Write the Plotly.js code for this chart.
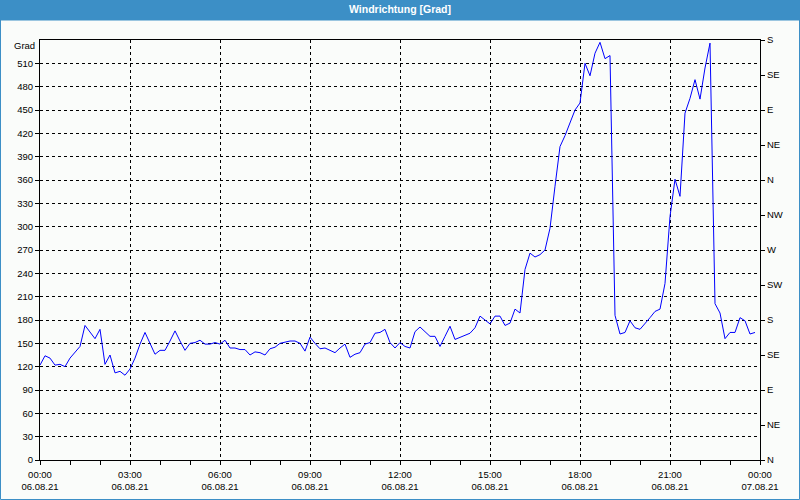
<!DOCTYPE html>
<html>
<head>
<meta charset="utf-8">
<script src="https://cdn.plot.ly/plotly-3.0.1.min.js"></script>
<style>
html,body{margin:0;padding:0;background:#fafcfa;}
#chart{width:800px;height:500px;}
</style>
</head>
<body>
<div id="chart"></div>
<script>
// ---- data ----
const startUTC = Date.UTC(2021, 7, 6, 0, 0);   // 06.08.21 00:00
const stepMs = 10 * 60 * 1000;                  // 10-minute samples
const direction = [
  122,134,131,122,123,120,131,139,146,173,165,156,168,123,135,112,114,109,
  117,131,149,164,150,136,141,141,153,166,153,141,150,151,154,149,149,151,
  149,154,144,144,142,142,135,139,138,135,143,145,150,152,153,153,150,140,
  158,150,143,144,141,138,144,149,132,136,138,149,151,163,164,168,151,144,
  151,146,144,165,171,165,159,159,146,159,172,155,158,160,163,170,185,180,
  175,185,185,173,176,194,189,245,266,261,264,270,298,352,403,417,434,450,
  459,510,494,523,537,516,520,186,162,164,179,170,168,175,183,191,194,227,
  313,361,339,446,465,489,464,504,536,201,189,156,164,164,183,179,162,164
];
const tickHours = [0,3,6,9,12,15,18,21,24];
const tickTimeLabels = ['00:00','03:00','06:00','09:00','12:00','15:00','18:00','21:00','00:00'];
const tickDateLabels = ['06.08.21','06.08.21','06.08.21','06.08.21','06.08.21','06.08.21','06.08.21','06.08.21','07.08.21'];
const leftTickVals = [0,30,60,90,120,150,180,210,240,270,300,330,360,390,420,450,480,510];
const rightTickVals = [0,45,90,135,180,225,270,315,360,405,450,495,540];
const rightTickLabels = ['N','NE','E','SE','S','SW','W','NW','N','NE','E','SE','S'];
const unitLabel = 'Grad';
const titleText = 'Windrichtung [Grad]';

// ---- build ----
const times = direction.map((_, i) => startUTC + i * stepMs);
const hourMs = 3600 * 1000;
const tickVals = tickHours.map(h => startUTC + h * hourMs);
const minorVals = [];
for (let h = 0; h <= 24; h++) minorVals.push(startUTC + h * hourMs);
const xRange = [startUTC, startUTC + 24 * hourMs];

const blue = '#3c8fc6';
const bg = '#fafcfa';
const tickFont = {family: 'Liberation Sans, Arial, sans-serif', size: 9.5, color: '#000'};

const traces = [
  {
    x: times, y: direction, type: 'scatter', mode: 'lines',
    line: {color: '#0000ff', width: 1}, hoverinfo: 'x+y'
  },
  {
    x: [startUTC], y: [null], xaxis: 'x2', yaxis: 'y2', type: 'scatter', mode: 'lines',
    hoverinfo: 'skip', showlegend: false
  }
];

const W = 800, H = 500, ml = 40, mr = 40, mt = 40, mb = 40;
const pw = W - ml - mr, ph = H - mt - mb;
const px2x = p => (p - ml) / pw;
const py2y = p => (H - mb - p) / ph;

const layout = {
  width: W, height: H,
  margin: {l: ml, r: mr, t: mt, b: mb, pad: 0},
  paper_bgcolor: bg, plot_bgcolor: bg,
  showlegend: false,
  title: {
    text: titleText,
    font: {family: 'Liberation Sans, Arial, sans-serif', size: 10.5, color: '#ffffff', weight: 'bold'},
    xref: 'container', x: 0.5, xanchor: 'center',
    yref: 'container', y: 1 - 9.5 / H, yanchor: 'middle'
  },
  xaxis: {
    type: 'date', range: xRange,
    tickmode: 'array', tickvals: tickVals, ticktext: tickTimeLabels,
    showgrid: true, gridcolor: '#000', gridwidth: 1, griddash: '3px,3px',
    showline: true, linecolor: '#000', linewidth: 1, mirror: true,
    ticks: 'outside', ticklen: 4, tickcolor: '#000', tickwidth: 1,
    minor: {tickmode: 'array', tickvals: minorVals, ticks: 'outside', ticklen: 4, tickcolor: '#000', tickwidth: 1, showgrid: false},
    zeroline: false, tickfont: tickFont, ticklabelstandoff: 2
  },
  xaxis2: {
    type: 'date', range: xRange, overlaying: 'x', anchor: 'y', side: 'bottom',
    tickmode: 'array', tickvals: tickVals, ticktext: tickDateLabels,
    ticks: '', showgrid: false, showline: false, zeroline: false,
    tickfont: tickFont, ticklabelstandoff: 19
  },
  yaxis: {
    range: [0, 540], tickmode: 'array', tickvals: leftTickVals,
    showgrid: true, gridcolor: '#000', gridwidth: 1, griddash: '3px,3px',
    showline: true, linecolor: '#000', linewidth: 1, mirror: true,
    ticks: 'outside', ticklen: 4, tickcolor: '#000', tickwidth: 1,
    zeroline: false, tickfont: tickFont
  },
  yaxis2: {
    range: [0, 540], overlaying: 'y', side: 'right', anchor: 'x',
    tickmode: 'array', tickvals: rightTickVals, ticktext: rightTickLabels,
    showgrid: false, showline: true, linecolor: '#000', linewidth: 1,
    ticks: 'outside', ticklen: 4, tickcolor: '#000', tickwidth: 1,
    zeroline: false, tickfont: tickFont
  },
  annotations: [
    {xref: 'paper', x: 0, xanchor: 'right', xshift: -3, yref: 'y', y: 540, yanchor: 'middle', yshift: -5,
     text: unitLabel, showarrow: false, font: tickFont}
  ],
  shapes: [
    {type: 'rect', xref: 'paper', yref: 'paper', layer: 'above',
     x0: px2x(-2), x1: px2x(W + 2), y0: py2y(20.5), y1: py2y(-2),
     fillcolor: blue, line: {width: 0}},
    {type: 'rect', xref: 'paper', yref: 'paper', layer: 'above',
     x0: px2x(0.5), x1: px2x(W - 0.5), y0: py2y(H - 0.5), y1: py2y(0.5),
     fillcolor: 'rgba(0,0,0,0)', line: {color: blue, width: 1}}
  ]
};

Plotly.newPlot('chart', traces, layout, {displayModeBar: false, staticPlot: true});
</script>
</body>
</html>
